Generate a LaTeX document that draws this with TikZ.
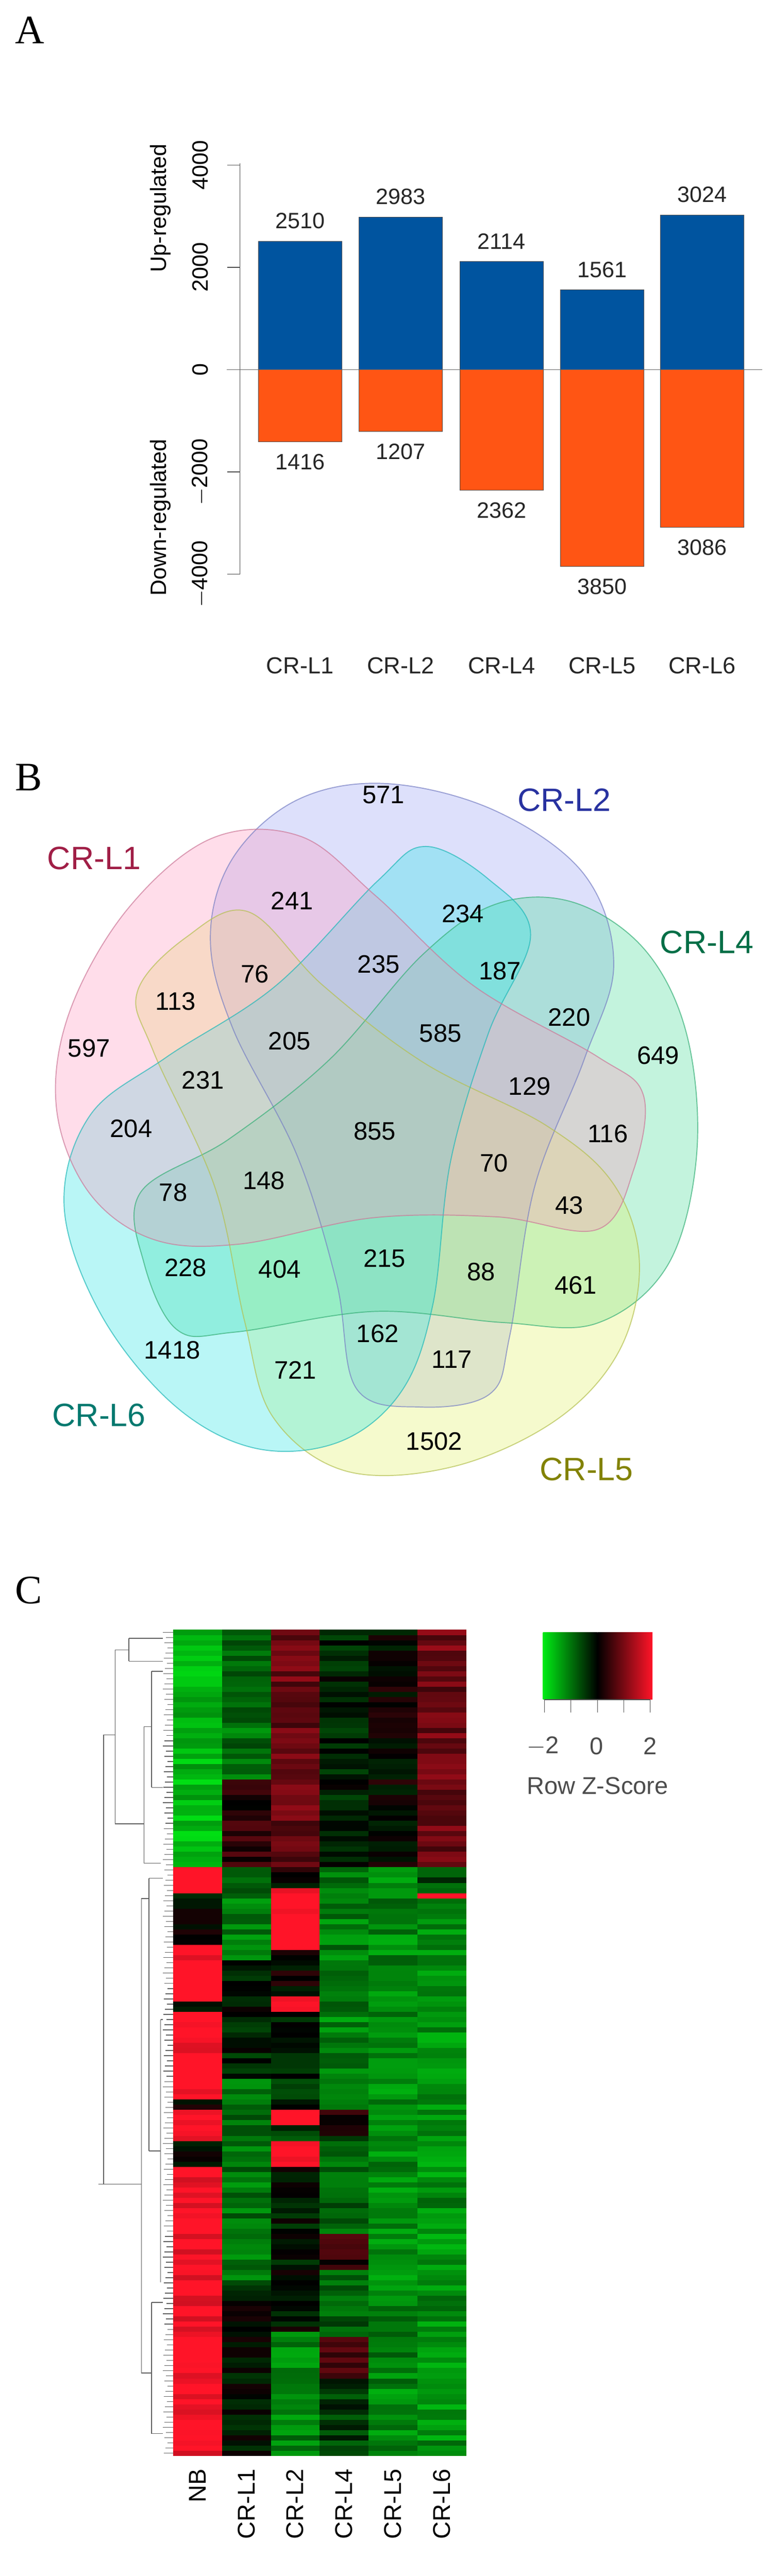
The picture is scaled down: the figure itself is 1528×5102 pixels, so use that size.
\documentclass[tikz,border=0pt]{standalone}
\usepackage{fontspec}
\setmainfont{Liberation Sans}
\newfontfamily\serifpanel{Liberation Serif}
\usepackage{tikz}

\definecolor{upblue}{RGB}{0,84,159}
\definecolor{downorange}{RGB}{255,85,20}
\definecolor{setpink}{RGB}{255,150,190}
\definecolor{setblue}{RGB}{150,160,245}
\definecolor{setgreen}{RGB}{70,220,150}
\definecolor{setyellow}{RGB}{225,240,100}
\definecolor{setcyan}{RGB}{40,230,230}
\definecolor{labpink}{RGB}{160,30,70}
\definecolor{labblue}{RGB}{40,50,160}
\definecolor{labgreen}{RGB}{0,110,70}
\definecolor{labyellow}{RGB}{130,130,0}
\definecolor{labcyan}{RGB}{0,120,110}
\definecolor{hmg}{RGB}{0,235,20}
\definecolor{hmr}{RGB}{255,20,40}
\definecolor{dendro}{RGB}{95,95,95}

\tikzset{
  panel/.style={font=\serifpanel\fontsize{20}{22}\selectfont, inner sep=0pt},
  barup/.style={fill=upblue, draw=black!70, line width=0.3pt},
  bardown/.style={fill=downorange, draw=black!70, line width=0.3pt},
  val/.style={font=\fontsize{11}{12}\selectfont, text=black!85, inner sep=1pt},
  ticklab/.style={font=\fontsize{11}{12}\selectfont, rotate=90, inner sep=1pt},
  vnum/.style={font=\fontsize{12.5}{14}\selectfont, inner sep=1pt},
  setlab/.style={font=\fontsize{16}{18}\selectfont, inner sep=1pt},
  collab/.style={font=\fontsize{12}{13}\selectfont, rotate=90, anchor=east, inner sep=1pt},
  dline/.style={draw=dendro, line width=0.35pt}
}

\begin{document}
\begin{tikzpicture}[x=0.25pt,y=0.25pt,yscale=-1,xscale=1]
\useasboundingbox (0,0) rectangle (1528,5102);
\fill[white] (0,0) rectangle (1528,5102);

% Panel A
\node[panel] (pA) at (59,60) {A};
\draw[black!70, line width=0.4pt] (475,323) -- (475,1137);
\foreach \t/\lab in {4000/4000,2000/2000,0/0,-2000/$-$2000,-4000/$-$4000}{
  \draw[black!70, line width=0.4pt] (450,732-\t*0.10125) -- (475,732-\t*0.10125);
  \node[ticklab] at (397,732-\t*0.10125) {\lab};
}
\node[ticklab] (yup) at (318,412) {Up-regulated};
\node[ticklab] (ydown) at (318,1025) {Down-regulated};
\foreach \x/\up/\down/\name in {512/2510/1416/CR-L1, 711/2983/1207/CR-L2, 911/2114/2362/CR-L4, 1110/1561/3850/CR-L5, 1308/3024/3086/CR-L6}{
  \draw[barup] (\x,732) rectangle (\x+165,732-\up*0.10125);
  \draw[bardown] (\x,732) rectangle (\x+165,732+\down*0.10125);
  \node[val] at (\x+82,732-\up*0.10125-40) {\up};
  \node[val] at (\x+82,732+\down*0.10125+40) {\down};
  \node[val, font=\fontsize{11.5}{13}\selectfont] at (\x+82,1318) {\name};
}
\draw[black!60, line width=0.4pt] (449,732) -- (1509,732);

% Panel B
\node[panel] (pB) at (57,1540) {B};
\begin{scope}[shift={(0,1700)}, xscale=0.98, yscale=1.05]
  \def\petal{plot[smooth cycle, tension=0.6] coordinates {(780,-141) (1000,-90) (1180,30) (1240,200) (1180,380) (1080,620) (1030,900) (990,1010) (850,1035) (720,1000) (680,800) (600,560) (470,320) (425,150) (470,0) (600,-110)}}
  \foreach \ang/\col in {0/setblue, 72/setgreen, 144/setyellow, 216/setcyan, 288/setpink}{
    \begin{scope}[rotate around={\ang:(757,515)}]
      \fill[\col, fill opacity=0.32] \petal;
    \end{scope}
  }
  \foreach \ang/\col in {0/setblue, 72/setgreen, 144/setyellow, 216/setcyan, 288/setpink}{
    \begin{scope}[rotate around={\ang:(757,515)}]
      \draw[\col!80!black, line width=0.5pt, draw opacity=0.7] \petal;
    \end{scope}
  }
  \foreach \px/\py/\n in {590/80/241, 935/105/234, 515/218/76, 765/200/235, 1010/212/187, 355/270/113,
     1150/300/220, 180/358/597, 585/345/205, 890/330/585, 1330/372/649, 410/418/231, 1070/430/129,
     265/510/204, 757/515/855, 1228/520/116, 998/575/70, 533/608/148, 350/630/78, 1150/655/43,
     375/772/228, 565/775/404, 777/755/215, 972/780/88, 1163/805/461, 763/897/162, 348/928/1418,
     913/945/117, 597/965/721, 877/1100/1502, 775/-120/571}{
    \node[vnum] (v\n) at (\px,\py) {\n};
  }
  \node[setlab, text=labpink] (sL1) at (190,0) {CR-L1};
  \node[setlab, text=labblue] (sL2) at (1140,-110) {CR-L2};
  \node[setlab, text=labgreen] (sL4) at (1428,158) {CR-L4};
  \node[setlab, text=labcyan] (sL6) at (200,1050) {CR-L6};
  \node[setlab, text=labyellow] (sL5) at (1185,1152) {CR-L5};
\end{scope}

% Panel C
\node[panel] (pC) at (57,3150) {C};
\pgfmathsetseed{11}
\foreach \c/\segs in {
  0/{0/45/-1.9,46/50/2.4,51/60/-0.1,61/71/2.4,72/73/0,74/90/2.4,91/92/0.2,93/98/2.4,99/103/0,104/159/2.4},
  1/{0/28/-1.1,29/45/0.4,46/63/-1.2,64/86/-0.3,87/126/-1.2,127/159/-0.1},
  2/{0/45/1.0,46/49/0,50/61/2.6,62/70/0,71/73/2.6,74/92/-0.4,93/95/2.6,96/98/-0.6,99/103/2.6,104/135/-0.2,136/159/-1.3},
  3/{0/45/-0.3,46/92/-1.3,93/97/0.4,98/116/-1.0,117/123/0.4,124/136/-1.0,137/144/0.7,145/159/-0.6},
  4/{0/45/0,46/159/-1.35},
  5/{0/45/1.0,46/50/-0.8,51/51/2.6,52/159/-1.45}}{
  \foreach \a/\b/\m in \segs {
    \foreach \r in {\a,...,\b}{
      \pgfmathsetmacro\v{\m+0.45*rand}
      \pgfmathtruncatemacro\p{min(100,abs(\v)*42)}
      \pgfmathtruncatemacro\neg{\v<0}
      \ifnum\neg=1 \def\hc{hmg}\else\def\hc{hmr}\fi
      \fill[\hc!\p!black] (343+\c*96.67,3228+\r*10.225) rectangle ++(96.67,10.4);
    }
  }
}
\foreach \c/\name in {0/NB,1/CR-L1,2/CR-L2,3/CR-L4,4/CR-L5,5/CR-L6}{
  \node[collab] (col\c) at (343+\c*96.67+48,4885) {\name};
}
% dendrogram
\foreach \r in {0,...,159}{
  \pgfmathtruncatemacro\dl{mod(\r*7,11)}
  \draw[dline] (322+\dl,3233+\r*10.225) -- (343,3233+\r*10.225);
}
\draw[dline] (205,3436) -- (205,4326);
\draw[dline] (205,3436) -- (228,3436);
\draw[dline] (195,4326) -- (280,4326);
\draw[dline] (228,3268) -- (228,3612);
\draw[dline] (228,3268) -- (255,3268) (228,3612) -- (285,3612);
\draw[dline] (255,3245) -- (255,3290) (255,3245) -- (322,3245) (255,3290) -- (322,3290);
\draw[dline] (285,3420) -- (285,3690) (285,3420) -- (300,3420) (285,3690) -- (318,3690);
\draw[dline] (300,3310) -- (300,3540) (300,3310) -- (322,3310) (300,3540) -- (322,3540);
\draw[dline] (280,3760) -- (280,4700) (280,3760) -- (295,3760) (280,4700) -- (300,4700);
\draw[dline] (295,3720) -- (295,4260) (295,3720) -- (322,3720) (295,4260) -- (318,4260);
\draw[dline] (300,4560) -- (300,4820) (300,4560) -- (322,4560) (300,4820) -- (322,4820);
\draw[dline] (318,4000) -- (318,4520) (318,4000) -- (322,4000);
% colour key
\shade[left color=hmg, right color=black] (1075,3233) rectangle (1183,3366);
\shade[left color=black, right color=hmr] (1183,3233) rectangle (1292,3366);
\draw[black!70, line width=0.4pt] (1078,3366) -- (1287,3366);
\foreach \k in {1078,1130,1183,1235,1287}{
  \draw[black!70, line width=0.4pt] (\k,3366) -- (\k,3392);
}
\foreach \k/\lab in {1075/$-$2,1181/0,1287/2}{
  \node[val, text=black!70, font=\fontsize{12}{13}\selectfont] at (\k,3458) {\lab};
}
\node[val, text=black!70, font=\fontsize{12}{13}\selectfont] (zkey) at (1183,3537) {Row Z-Score};
\end{tikzpicture}
\end{document}
